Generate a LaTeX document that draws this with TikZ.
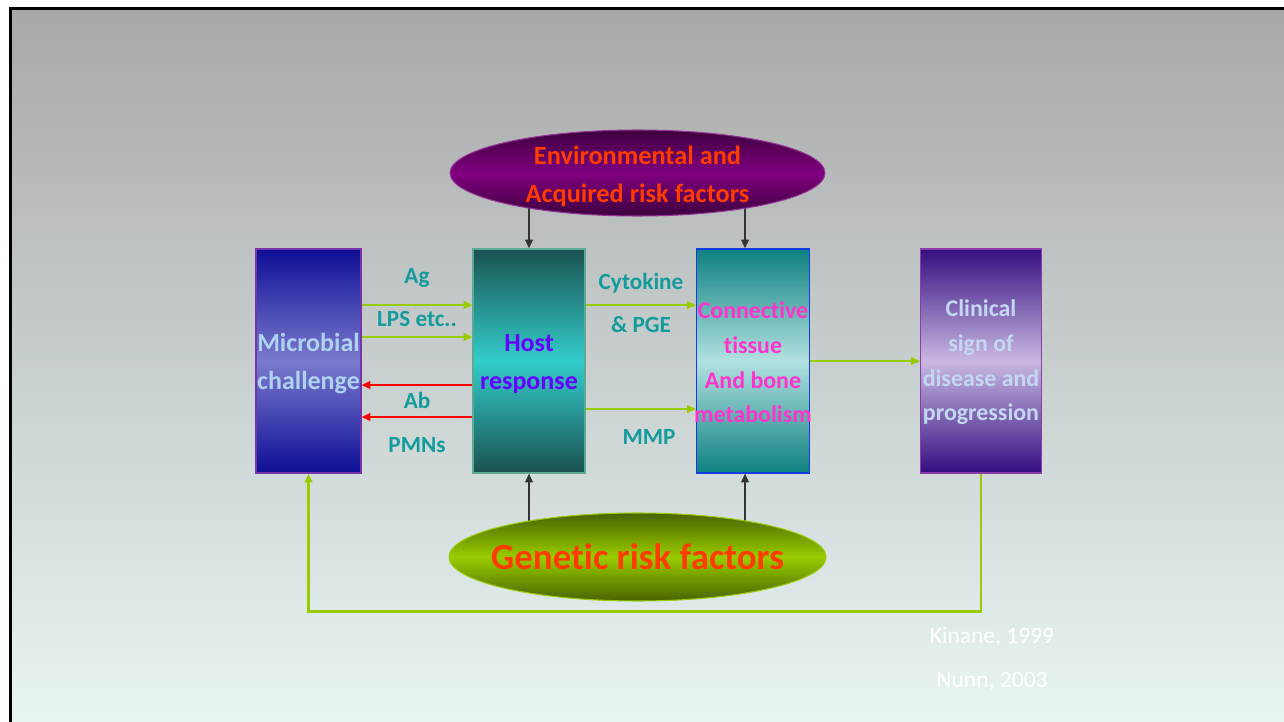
\documentclass[tikz,border=0pt]{standalone}
\usepackage{fontspec}
\setmainfont{Carlito}[Ligatures=NoCommon]
\usetikzlibrary{shapes.geometric,arrows.meta,backgrounds}
\definecolor{slidetop}{RGB}{168,168,168}
\definecolor{slidebot}{RGB}{232,245,245}
\definecolor{cuecol}{RGB}{20,155,155}
\definecolor{riskred}{RGB}{255,60,0}
\definecolor{leafgreen}{RGB}{153,204,0}
\definecolor{microdark}{RGB}{14,14,150}
\definecolor{microlight}{RGB}{122,122,205}
\definecolor{microedge}{RGB}{120,50,170}
\definecolor{microtext}{RGB}{175,210,240}
\definecolor{hostdark}{RGB}{25,82,80}
\definecolor{hostlight}{RGB}{52,204,204}
\definecolor{hostedge}{RGB}{90,170,150}
\definecolor{hosttext}{RGB}{102,0,255}
\definecolor{tissuedark}{RGB}{14,128,128}
\definecolor{tissuelight}{RGB}{178,225,225}
\definecolor{tissueedge}{RGB}{20,60,230}
\definecolor{tissuetext}{RGB}{255,51,204}
\definecolor{signdark}{RGB}{52,14,128}
\definecolor{signlight}{RGB}{200,184,226}
\definecolor{signedge}{RGB}{140,60,170}
\definecolor{signtext}{RGB}{195,216,240}
\definecolor{envdark}{RGB}{62,0,62}
\definecolor{envmid}{RGB}{128,0,128}
\definecolor{envedge}{RGB}{150,50,150}
\definecolor{gendark}{RGB}{72,100,0}
\tikzset{
stage/.style={
	  draw, rectangle, minimum height=4.48cm, inner sep=0pt, line width=0.8pt},
stagetext/.style={
	  align=center, yshift=-0.06cm, font=\fontsize{14.8}{21.7}\selectfont\bfseries},
longtext/.style={
	  stagetext, yshift=0.03cm, font=\fontsize{13.6}{19.7}\selectfont\bfseries},
factor/.style={
	  ellipse, draw, inner sep=0pt, line width=0.6pt},
cue/.style={text=cuecol, font=\fontsize{13.2}{15}\selectfont\bfseries, anchor=base},
flow/.style={-{Triangle[length=5pt,width=4.5pt]}, line width=0.6pt}
}

\begin{document}
\begin{tikzpicture}[x=0.02cm, y=-0.02cm]
	\useasboundingbox (0,0) rectangle (1284,722);
	\node[factor, draw=envedge, top color=envdark, bottom color=envdark, middle color=envmid,
	  minimum width=7.5cm, minimum height=1.72cm,
	  label={[stagetext, text=riskred, font=\fontsize{15}{21.7}\selectfont\bfseries]center:Environmental and\\Acquired risk factors}] (env) at (637.5,173) {};
	\node[factor, draw=leafgreen, top color=gendark, bottom color=gendark, middle color=leafgreen,
	  minimum width=7.54cm, minimum height=1.76cm,
	  label={[text=riskred, font=\fontsize{21}{24}\selectfont\bfseries]center:Genetic risk factors}] (gene) at (637.5,557) {};
	\node[stage, draw=microedge, top color=microdark, bottom color=microdark, middle color=microlight,
	  minimum width=2.1cm, label={[stagetext, text=microtext]center:Microbial\\challenge}] (microbe) at (308.5,361) {};
	\node[stage, draw=hostedge, top color=hostdark, bottom color=hostdark, middle color=hostlight,
	  minimum width=2.24cm, label={[stagetext, text=hosttext]center:Host\\response}] (host) at (529,361) {};
	\node[stage, draw=tissueedge, top color=tissuedark, bottom color=tissuedark, middle color=tissuelight,
	  minimum width=2.26cm, label={[longtext, text=tissuetext]center:Connective\\tissue\\And bone\\metabolism}] (tissue) at (753,361) {};
	\node[stage, draw=signedge, top color=signdark, bottom color=signdark, middle color=signlight,
	  minimum width=2.42cm, label={[longtext, text=signtext]center:Clinical\\sign of\\disease and\\progression}] (sign) at (981,361) {};
	\draw[flow, leafgreen] ([yshift=1.12cm]microbe.east) -- ([yshift=1.12cm]host.west);
	\draw[flow, leafgreen] ([yshift=0.48cm]microbe.east) -- ([yshift=0.48cm]host.west);
	\draw[flow, red] ([yshift=-0.48cm]host.west) -- ([yshift=-0.48cm]microbe.east);
	\draw[flow, red] ([yshift=-1.12cm]host.west) -- ([yshift=-1.12cm]microbe.east);
	\draw[flow, leafgreen] ([yshift=1.12cm]host.east) -- ([yshift=1.12cm]tissue.west);
	\draw[flow, leafgreen] ([yshift=-0.96cm]host.east) -- ([yshift=-0.96cm]tissue.west);
	\draw[flow, leafgreen] (tissue.east) -- (sign.west);
	\draw[flow, leafgreen, line width=1.4pt] (sign.south) -- ++(0,138) -| (microbe.south);
	\node[cue] (ag) at (417,284) {Ag};
	\node[cue] (lps) at (417,327) {LPS etc..};
	\node[cue] (ab) at (417,409) {Ab};
	\node[cue] (pmn) at (417,453) {PMNs};
	\node[cue] (cyto) at (641,290) {Cytokine};
	\node[cue] (pge) at (641,333) {\& PGE};
	\node[cue] (mmp) at (649,445) {MMP};
	\node[text=white, font=\fontsize{13.4}{15}\selectfont, anchor=base] (kinane) at (992,643) {Kinane, 1999};
	\node[text=white, font=\fontsize{13.4}{15}\selectfont, anchor=base] (nunn) at (992,687) {Nunn, 2003};
	\begin{scope}[on background layer]
		\fill[white] (0,0) rectangle (1284,722);
		\shade[top color=slidetop, bottom color=slidebot] (10,8) rectangle (1284,722);
		\draw[line width=1.7pt] (10.5,722) -- (10.5,8.5) -- (1284,8.5);
		\draw[flow, black!80] (host.north |- env.center) -- (host.north);
		\draw[flow, black!80] ([xshift=-0.16cm]tissue.north |- env.center) -- ([xshift=-0.16cm]tissue.north);
		\draw[flow, black!80] (host.south |- gene.center) -- (host.south);
		\draw[flow, black!80] ([xshift=-0.16cm]tissue.south |- gene.center) -- ([xshift=-0.16cm]tissue.south);
	\end{scope}
\end{tikzpicture}
\end{document}
